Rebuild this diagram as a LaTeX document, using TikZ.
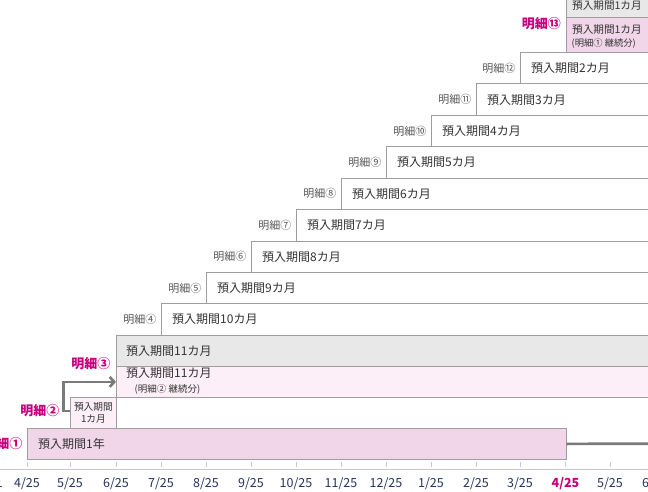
\documentclass[tikz,border=0pt]{standalone}
\usepackage{fontspec}
\setmainfont{Noto Sans CJK JP}
\usetikzlibrary{arrows.meta}
\definecolor{pinkD}{HTML}{F0D6E8}
\definecolor{pinkL}{HTML}{FDEFF7}
\definecolor{grayF}{HTML}{E8E8E8}
\definecolor{edgegray}{HTML}{A09CA0}
\definecolor{flowgray}{HTML}{7A7A7A}
\definecolor{keymag}{HTML}{C6007D}
\definecolor{labgray}{HTML}{555555}
\definecolor{txtdark}{HTML}{333333}
\definecolor{navy}{HTML}{24325F}
\definecolor{axgray}{HTML}{C8C8C8}
\begin{document}
\begin{tikzpicture}[x=1pt,y=-1pt,
  rowbox/.style={draw=edgegray, line width=0.8pt, fill=white, rectangle, inner sep=0pt, minimum height=31.4pt},
  boxtext/.style={anchor=west, inner sep=0pt, text=txtdark, font=\fontsize{12}{14}\selectfont},
  smalltext/.style={anchor=west, inner sep=0pt, text=txtdark, font=\fontsize{9.5}{11}\selectfont},
  rowlabel/.style={anchor=east, inner sep=0pt, text=labgray, font=\fontsize{11}{13}\selectfont},
  keylabel/.style={anchor=east, inner sep=0pt, text=keymag, font=\bfseries\fontsize{13}{15}\selectfont},
  axlabel/.style={inner sep=0pt, text=navy, font=\fontsize{12.5}{14}\selectfont},
  flow/.style={draw=flowgray, line width=2.7pt},
]
\useasboundingbox (0,0) rectangle (648,492);
\clip (0,0) rectangle (648,492);

% axis
\coordinate (axL) at (0,469.3);
\coordinate (axR) at (648,469.3);
\draw[axgray, line width=0.8pt] (axL) -- (axR);
\foreach \i/\x/\t in {0/27/4\slash 25,1/70/5\slash 25,2/116/6\slash 25,3/161/7\slash 25,4/206/8\slash 25,5/251/9\slash 25,6/296/10\slash 25,7/341/11\slash 25,8/386/12\slash 25,9/431/1\slash 25,10/476/2\slash 25,11/520/3\slash 25,13/610/5\slash 25,14/655/6\slash 25}{
  \coordinate (tk\i) at (\x,466.6);
  \draw[axgray, line width=0.8pt] (tk\i) -- ++(0,-4.6);
  \node[axlabel] (al\i) at (\x,483.5) {\t};
}
\coordinate (tk12) at (565.5,466.6);
\draw[axgray, line width=0.8pt] (tk12) -- ++(0,-4.6);
\node[axlabel, text=keymag, font=\bfseries\fontsize{12.5}{14}\selectfont] (al12) at (565.5,483.5) {4/25};
\node[axlabel] (alm) at (-10,483.5) {3/31};

% rows 4..12
\foreach \k/\x/\m/\c in {4/161/10/④,5/206/9/⑤,6/251/8/⑥,7/296/7/⑦,8/341/6/⑧,9/386/5/⑨,10/431/4/⑩,11/476/3/⑪,12/520/2/⑫}{
  \pgfmathsetmacro\ytop{334.7-(\k-3)*31.4}
  \pgfmathsetmacro\rowwd{660-\x}
  \node[rowbox, minimum width=\rowwd pt, anchor=north west] (b\k) at (\x,\ytop) {};
  \node[boxtext] (t\k) at ([xshift=11pt]b\k.west) {預入期間\m カ月};
  \node[rowlabel] (l\k) at ([xshift=-4.5pt]b\k.west) {明細\c};
}

% row 13
\node[rowbox, fill=grayF, minimum width=94.5pt, minimum height=31.5pt, anchor=north west] (b13g) at (565.5,-14) {};
\node[rowbox, fill=pinkD, minimum width=94.5pt, minimum height=34.6pt, anchor=north west] (b13p) at (565.5,17.5) {};
\node[boxtext, font=\fontsize{10.6}{12}\selectfont] (t13g) at (572,5.5) {預入期間1カ月};
\node[boxtext, font=\fontsize{10.6}{12}\selectfont] (t13a) at (572,30) {預入期間1カ月};
\node[smalltext, font=\fontsize{9.3}{11}\selectfont] (t13b) at (571.5,43.3) {(明細① 継続分)};
\node[keylabel] (k13) at (561,23.3) {明細⑬};

% row 3
\node[rowbox, fill=grayF, minimum width=544pt, minimum height=31.3pt, anchor=north west] (b3g) at (116,334.7) {};
\node[rowbox, fill=pinkL, minimum width=544pt, minimum height=31pt, anchor=north west] (b3p) at (116,366) {};
\node[boxtext] (t3g) at (126,351.3) {預入期間11カ月};
\node[boxtext] (t3a) at (126,373.3) {預入期間11カ月};
\node[smalltext] (t3b) at (134.5,389) {(明細② 継続分)};
\node[keylabel] (k3) at (110.5,364) {明細③};

% row 2
\node[rowbox, fill=pinkL, minimum width=46pt, minimum height=31pt, anchor=north west] (b2) at (70,397) {};
\node[text=txtdark, inner sep=0pt, align=center, font=\fontsize{9.7}{12.3}\selectfont] (t2) at (b2.center) {預入期間\\1カ月};
\node[keylabel] (k2) at (59.5,410.7) {明細②};

% row 1
\node[rowbox, fill=pinkD, minimum width=538.5pt, minimum height=31pt, anchor=north west] (b1) at (27,428) {};
\node[boxtext] (t1) at (38,443.7) {預入期間1年};
\node[keylabel] (k1) at (22.5,444) {明細①};

% connectors
\draw[flow, -{Straight Barb[length=4.5pt,width=10pt]}] ([yshift=2pt]b2.west) -- ++(-6.5,0) |- (b3p.west);
\coordinate (e1) at (648,443.7);
\draw[flow] (b1.east) -- (e1);
\end{tikzpicture}
\end{document}
